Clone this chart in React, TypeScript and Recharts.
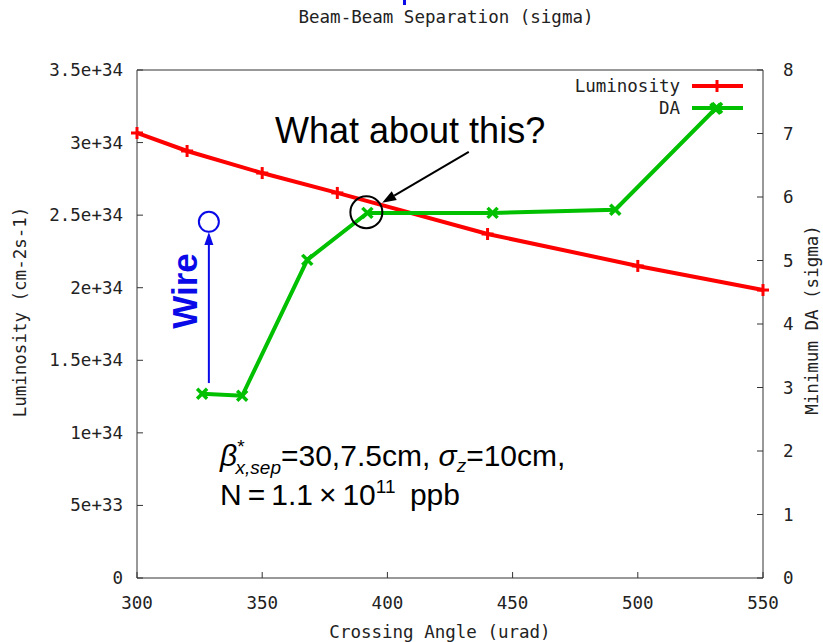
import React from 'react'
import {
  ComposedChart,
  Line,
  XAxis,
  YAxis,
  ReferenceDot,
  ReferenceLine
} from 'recharts'

// crossing angle (urad) for the luminosity scan
const lumAngles = [300, 320, 350, 380, 440, 500, 550]
const luminosity = [3.066e34, 2.942e34, 2.79e34, 2.653e34, 2.37e34, 2.15e34, 1.984e34]

// crossing angle (urad) for the dynamic aperture points
const daAngles = [326, 342, 368, 392, 442, 491, 531]
const minDA = [2.9, 2.87, 5.01, 5.75, 5.75, 5.8, 7.39]

const angleTicks = [300, 350, 400, 450, 500, 550]
const sepTicks = [8, 9, 10, 11, 12, 13, 14, 15, 16, 17]
const lumTicks = [0, 5e33, 1e34, 1.5e34, 2e34, 2.5e34, 3e34, 3.5e34]
const lumTickLabels = ['0', '5e+33', '1e+34', '1.5e+34', '2e+34', '2.5e+34', '3e+34', '3.5e+34']
const daTicks = [0, 1, 2, 3, 4, 5, 6, 7, 8]

const lumData = lumAngles.map((x, i) => ({ x, lum: luminosity[i] }))
const daData = daAngles.map((x, i) => ({ x, da: minDA[i] }))

const MONO = 'DejaVu Sans Mono'
const SANS = 'Liberation Sans'
const AXIS = '#333'
const RED = '#ff0000'
const GREEN = '#00c000'
const BLUE = '#0a0ae8'

const BottomTick = (props: any) => {
  const { x, y, payload } = props
  return (
    <g>
      <line x1={x} y1={y} x2={x} y2={y - 6} stroke={AXIS} />
      <text x={x} y={y + 31} textAnchor="middle" fontFamily={MONO} fontSize={17.5} fill="#222">
        {payload.value}
      </text>
    </g>
  )
}

const TopTick = (props: any) => {
  const { x, y, payload } = props
  return (
    <g>
      <line x1={x} y1={y} x2={x} y2={y + 6} stroke={AXIS} />
      <text x={x} y={y - 17} textAnchor="middle" fontFamily={MONO} fontSize={17.5} fill="#222">
        {payload.value}
      </text>
    </g>
  )
}

const LeftTick = (props: any) => {
  const { x, y, payload } = props
  const i = lumTicks.indexOf(payload.value)
  return (
    <g>
      <line x1={x} y1={y} x2={x + 6} y2={y} stroke={AXIS} />
      <text x={x - 14} y={y + 6} textAnchor="end" fontFamily={MONO} fontSize={17.5} fill="#222">
        {lumTickLabels[i]}
      </text>
    </g>
  )
}

const RightTick = (props: any) => {
  const { x, y, payload } = props
  return (
    <g>
      <line x1={x} y1={y} x2={x - 6} y2={y} stroke={AXIS} />
      <text x={x + 20} y={y + 6} textAnchor="start" fontFamily={MONO} fontSize={17.5} fill="#222">
        {payload.value}
      </text>
    </g>
  )
}

const plusDot = (props: any) => {
  const { cx, cy, index } = props
  return (
    <g key={`plus-${index}`}>
      <line x1={cx - 6} y1={cy} x2={cx + 6} y2={cy} stroke={RED} strokeWidth={3} />
      <line x1={cx} y1={cy - 6} x2={cx} y2={cy + 6} stroke={RED} strokeWidth={3} />
    </g>
  )
}

const crossDot = (props: any) => {
  const { cx, cy, index } = props
  return (
    <g key={`cross-${index}`}>
      <line x1={cx - 5} y1={cy - 5} x2={cx + 5} y2={cy + 5} stroke={GREEN} strokeWidth={3.5} />
      <line x1={cx - 5} y1={cy + 5} x2={cx + 5} y2={cy - 5} stroke={GREEN} strokeWidth={3.5} />
    </g>
  )
}

// line with a filled head at the (x2, y2) end
const arrow = (color: string, w: number, len: number, half: number) => (props: any) => {
  const { x1, y1, x2, y2 } = props
  const a = Math.atan2(y2 - y1, x2 - x1)
  const bx = x2 - len * Math.cos(a)
  const by = y2 - len * Math.sin(a)
  const px = -Math.sin(a) * half
  const py = Math.cos(a) * half
  return (
    <g>
      <line x1={x1} y1={y1} x2={bx} y2={by} stroke={color} strokeWidth={w} />
      <polygon points={`${x2},${y2} ${bx + px},${by + py} ${bx - px},${by - py}`} fill={color} />
    </g>
  )
}

export default function App() {
  return (
    <div style={{ position: 'absolute', left: 0, top: 0, width: 823, height: 642, background: '#fff' }}>
      <ComposedChart width={823} height={642} margin={{ top: 0, right: 0, bottom: 0, left: 0 }}>
        <XAxis
          xAxisId="bottom"
          type="number"
          dataKey="x"
          domain={[300, 550]}
          ticks={angleTicks}
          interval={0}
          height={64}
          tickSize={0}
          tickMargin={0}
          stroke={AXIS}
          tick={BottomTick}
        />
        <XAxis
          xAxisId="top"
          orientation="top"
          type="number"
          domain={[8, 17]}
          ticks={sepTicks}
          interval={0}
          height={70}
          tickSize={0}
          tickMargin={0}
          stroke={AXIS}
          tick={TopTick}
          allowDataOverflow
        />
        <YAxis
          yAxisId="left"
          type="number"
          domain={[0, 3.5e34]}
          ticks={lumTicks}
          interval={0}
          width={137}
          tickSize={0}
          tickMargin={0}
          stroke={AXIS}
          tick={LeftTick}
        />
        <YAxis
          yAxisId="right"
          orientation="right"
          type="number"
          domain={[0, 8]}
          ticks={daTicks}
          interval={0}
          width={60}
          tickSize={0}
          tickMargin={0}
          stroke={AXIS}
          tick={RightTick}
        />
        <Line
          data={lumData}
          dataKey="lum"
          xAxisId="bottom"
          yAxisId="left"
          type="linear"
          stroke={RED}
          strokeWidth={4}
          dot={plusDot}
          activeDot={false}
          isAnimationActive={false}
        />
        <Line
          data={daData}
          dataKey="da"
          xAxisId="bottom"
          yAxisId="right"
          type="linear"
          stroke={GREEN}
          strokeWidth={4}
          dot={crossDot}
          activeDot={false}
          isAnimationActive={false}
        />
        {/* annotations */}
        <ReferenceDot xAxisId="bottom" yAxisId="right" x={391.6} y={5.76} r={16} fill="none" stroke="#000" strokeWidth={2} />
        <ReferenceDot xAxisId="bottom" yAxisId="right" x={328.7} y={5.61} r={10} fill="none" stroke={BLUE} strokeWidth={2} />
        <ReferenceLine
          xAxisId="bottom"
          yAxisId="right"
          segment={[{ x: 328.7, y: 3.07 }, { x: 328.7, y: 5.45 }]}
          shape={arrow(BLUE, 2, 13, 4.5)}
        />
        <ReferenceLine
          xAxisId="bottom"
          yAxisId="right"
          segment={[{ x: 432.5, y: 6.71 }, { x: 397.9, y: 5.91 }]}
          shape={arrow('#000', 2, 14, 5)}
        />
      </ComposedChart>

      <svg width={823} height={642} style={{ position: 'absolute', left: 0, top: 0, pointerEvents: 'none' }}>
        {/* tail of a clipped title glyph at the very top */}
        <rect x={403} y={0} width={3} height={5} fill={BLUE} />
        <text x={446} y={23} textAnchor="middle" fontFamily={MONO} fontSize={17.5} fill="#222">
          Beam-Beam Separation (sigma)
        </text>
        <text x={440} y={638} textAnchor="middle" fontFamily={MONO} fontSize={17.5} fill="#222">
          Crossing Angle (urad)
        </text>
        <text transform="translate(26,312) rotate(-90)" textAnchor="middle" fontFamily={MONO} fontSize={17.5} fill="#222">
          Luminosity (cm-2s-1)
        </text>
        <text transform="translate(818,320) rotate(-90)" textAnchor="middle" fontFamily={MONO} fontSize={17.5} fill="#222">
          Minimum DA (sigma)
        </text>

        {/* legend */}
        <text x={680} y={92} textAnchor="end" fontFamily={MONO} fontSize={17.5} fill="#222">Luminosity</text>
        <line x1={692} y1={86} x2={743} y2={86} stroke={RED} strokeWidth={4} />
        <line x1={711} y1={86} x2={723} y2={86} stroke={RED} strokeWidth={3} />
        <line x1={717} y1={80} x2={717} y2={92} stroke={RED} strokeWidth={3} />
        <text x={680} y={114} textAnchor="end" fontFamily={MONO} fontSize={17.5} fill="#222">DA</text>
        <line x1={692} y1={108} x2={743} y2={108} stroke={GREEN} strokeWidth={4} />
        <line x1={712} y1={103} x2={722} y2={113} stroke={GREEN} strokeWidth={3.5} />
        <line x1={712} y1={113} x2={722} y2={103} stroke={GREEN} strokeWidth={3.5} />

        <text x={275} y={143} fontFamily={SANS} fontSize={36} fill="#000">What about this?</text>

        <text transform="translate(197,291) rotate(-90)" textAnchor="middle" fontFamily={SANS} fontWeight="bold" fontSize={35} fill={BLUE}>
          Wire
        </text>

        <text x={220} y={466} fontFamily={SANS} fontSize={30} fill="#000">
          <tspan fontStyle="italic">β</tspan>
          <tspan fontSize={19} dy={-13}>*</tspan>
          <tspan fontSize={19} fontStyle="italic" dx={-9} dy={21}>x,sep</tspan>
          <tspan dy={-8}>{'=30,7.5cm, '}</tspan>
          <tspan fontStyle="italic">σ</tspan>
          <tspan fontSize={19} fontStyle="italic" dy={6}>z</tspan>
          <tspan dy={-6}>{'=10cm,'}</tspan>
        </text>
        <text x={220} y={505} fontFamily={SANS} fontSize={30} fill="#000">
          <tspan>{'N\u2009=\u20091.1\u2009×\u200910'}</tspan>
          <tspan fontSize={19} dy={-12}>11</tspan>
          <tspan dy={12}>{'\u2009 ppb'}</tspan>
        </text>
      </svg>
    </div>
  )
}
